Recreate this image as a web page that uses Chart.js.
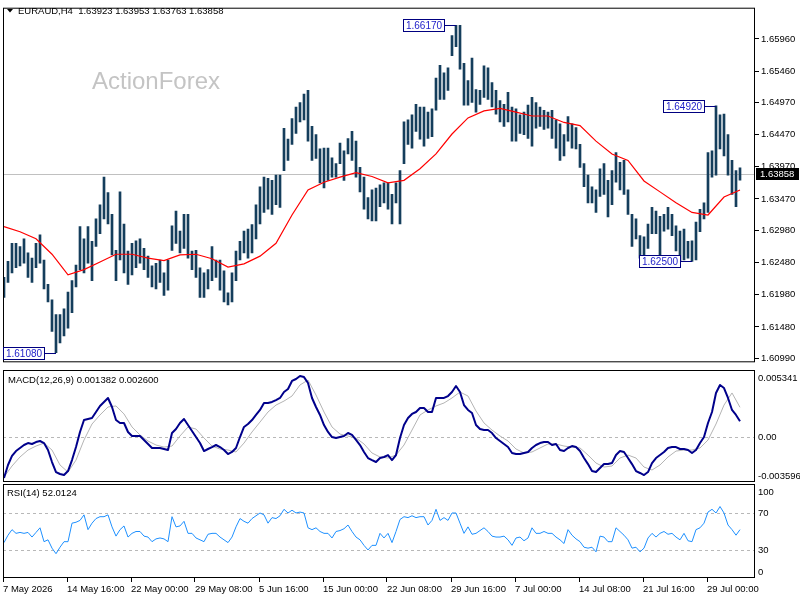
<!DOCTYPE html>
<html>
<head>
<meta charset="utf-8">
<title>EURAUD H4</title>
<script src="https://cdn.jsdelivr.net/npm/chart.js@4.4.1/dist/chart.umd.min.js"></script>
<style>
  html, body { margin: 0; padding: 0; background: #fff; }
  #wrap { position: relative; width: 800px; height: 600px; overflow: hidden; background: #fff; }
  canvas { position: absolute; left: 0; }
</style>
</head>
<body>
<div id="wrap">
  <canvas id="priceChart" width="800" height="370" style="top:0;width:800px;height:370px"></canvas>
  <canvas id="macdChart" width="800" height="114" style="top:368px;width:800px;height:114px"></canvas>
  <canvas id="rsiChart" width="800" height="118" style="top:482px;width:800px;height:118px"></canvas>
</div>
<script>
// EURAUD H4 - price bars (high/low), moving average, MACD and RSI

const titleText = 'EURAUD,H4  1.63923 1.63953 1.63763 1.63858';
const macdTitle = 'MACD(12,26,9) 0.001382 0.002600';
const rsiTitle = 'RSI(14) 52.0124';
const lastPrice = 1.63858;

const timeLabels = ['7 May 2026', '14 May 16:00', '22 May 00:00', '29 May 08:00', '5 Jun 16:00', '15 Jun 00:00',
  '22 Jun 08:00', '29 Jun 16:00', '7 Jul 00:00', '14 Jul 08:00', '21 Jul 16:00', '29 Jul 00:00'];
const priceTicks = [1.65960, 1.65460, 1.64970, 1.64470, 1.63970, 1.63470, 1.62980, 1.62480, 1.61980, 1.61480, 1.60990];
const macdTicks = [0.005341, 0, -0.003596];
const macdTickText = ['0.005341', '0.00', '-0.003596'];
const rsiTicks = [100, 70, 30, 0];

// one bar per 8 hours (two H4 bars merged)
const highs = [
  1.6225, 1.6250, 1.6278, 1.6278, 1.6273, 1.6285, 1.6263, 1.6255, 1.6278, 1.6291,
  1.6252, 1.6214, 1.6190, 1.6167, 1.6167, 1.6176, 1.6202, 1.6220, 1.6244, 1.6304,
  1.6285, 1.6304, 1.6281, 1.6316, 1.6338, 1.6381, 1.6357, 1.6323, 1.6267, 1.6358,
  1.6308, 1.6266, 1.6278, 1.6282, 1.6285, 1.6270, 1.6258, 1.6243, 1.6247, 1.6252,
  1.6232, 1.6252, 1.6305, 1.6328, 1.6297, 1.6323, 1.6323, 1.6266, 1.6267, 1.6240,
  1.6232, 1.6237, 1.6273, 1.6252, 1.6252, 1.6235, 1.6201, 1.6232, 1.6266, 1.6281,
  1.6297, 1.6300, 1.6307, 1.6338, 1.6366, 1.6381, 1.6379, 1.6376, 1.6384, 1.6384,
  1.6457, 1.6440, 1.6472, 1.6490, 1.6497, 1.6510, 1.6516, 1.6460, 1.6447, 1.6425,
  1.6426, 1.6426, 1.6411, 1.6402, 1.6434, 1.6422, 1.6441, 1.6452, 1.6437, 1.6396,
  1.6381, 1.6349, 1.6361, 1.6364, 1.6369, 1.6372, 1.6372, 1.6354, 1.6372, 1.6391,
  1.6467, 1.6470, 1.6478, 1.6494, 1.6490, 1.6490, 1.6482, 1.6487, 1.6535, 1.6555,
  1.6543, 1.6551, 1.6601, 1.6617, 1.6617, 1.6558, 1.6531, 1.6566, 1.6517, 1.6516,
  1.6554, 1.6551, 1.6528, 1.6516, 1.6500, 1.6494, 1.6513, 1.6490, 1.6487, 1.6478,
  1.6482, 1.6493, 1.6505, 1.6497, 1.6490, 1.6485, 1.6482, 1.6485, 1.6470, 1.6464,
  1.6447, 1.6475, 1.6464, 1.6458, 1.6432, 1.6402, 1.6384, 1.6366, 1.6361, 1.6394,
  1.6402, 1.6376, 1.6391, 1.6419, 1.6404, 1.6407, 1.6361, 1.6323, 1.6316, 1.6290,
  1.6288, 1.6308, 1.6334, 1.6328, 1.6320, 1.6323, 1.6334, 1.6323, 1.6305, 1.6297,
  1.6300, 1.6281, 1.6282, 1.6311, 1.6331, 1.6341, 1.6419, 1.6422, 1.6492, 1.6478,
  1.6479, 1.6447, 1.6407, 1.6391, 1.63953
];
const lows = [
  1.6194, 1.6217, 1.6232, 1.6240, 1.6243, 1.6247, 1.6225, 1.6217, 1.6240, 1.6247,
  1.6207, 1.6187, 1.6141, 1.6108, 1.6123, 1.6134, 1.6146, 1.6170, 1.6210, 1.6237,
  1.6232, 1.6247, 1.6220, 1.6273, 1.6293, 1.6316, 1.6308, 1.6260, 1.6220, 1.6252,
  1.6232, 1.6214, 1.6229, 1.6240, 1.6247, 1.6237, 1.6225, 1.6210, 1.6207, 1.6217,
  1.6197, 1.6205, 1.6267, 1.6278, 1.6263, 1.6270, 1.6255, 1.6237, 1.6225, 1.6194,
  1.6194, 1.6207, 1.6220, 1.6225, 1.6205, 1.6187, 1.6182, 1.6187, 1.6220, 1.6252,
  1.6263, 1.6255, 1.6263, 1.6285, 1.6308, 1.6326, 1.6331, 1.6323, 1.6338, 1.6334,
  1.6391, 1.6407, 1.6432, 1.6449, 1.6467, 1.6470, 1.6437, 1.6407, 1.6410, 1.6372,
  1.6364, 1.6376, 1.6381, 1.6381, 1.6402, 1.6376, 1.6417, 1.6407, 1.6381, 1.6358,
  1.6331, 1.6316, 1.6313, 1.6313, 1.6335, 1.6341, 1.6331, 1.6308, 1.6341, 1.6308,
  1.6402, 1.6432, 1.6426, 1.6452, 1.6440, 1.6429, 1.6441, 1.6444, 1.6485, 1.6502,
  1.6502, 1.6516, 1.6570, 1.6584, 1.6549, 1.6493, 1.6493, 1.6497, 1.6482, 1.6494,
  1.6505, 1.6502, 1.6490, 1.6479, 1.6467, 1.6460, 1.6467, 1.6437, 1.6437, 1.6449,
  1.6447, 1.6441, 1.6429, 1.6457, 1.6460, 1.6455, 1.6457, 1.6441, 1.6426, 1.6407,
  1.6414, 1.6437, 1.6426, 1.6425, 1.6396, 1.6366, 1.6341, 1.6341, 1.6326, 1.6351,
  1.6354, 1.6319, 1.6338, 1.6373, 1.6361, 1.6354, 1.6323, 1.6273, 1.6285, 1.6255,
  1.6258, 1.6270, 1.6293, 1.6293, 1.6258, 1.6297, 1.6300, 1.6290, 1.6266, 1.6250,
  1.6252, 1.6255, 1.6250, 1.6252, 1.6296, 1.6316, 1.6326, 1.6381, 1.6384, 1.6425,
  1.6414, 1.6384, 1.6354, 1.6335, 1.63763
];

// moving average, read every 4th bar
const maVals = [
  1.6304, 1.6296, 1.6285, 1.6261, 1.6229, 1.6237, 1.6249, 1.6261, 1.6261, 1.6255,
  1.6251, 1.6260, 1.6261, 1.6254, 1.6241, 1.6246, 1.6258, 1.6278, 1.6322, 1.6361,
  1.6373, 1.6381, 1.6388, 1.6382, 1.6372, 1.6376, 1.6394, 1.6417, 1.6448, 1.6473,
  1.6484, 1.6488, 1.6482, 1.6476, 1.6476, 1.6466, 1.6461, 1.6437, 1.6417, 1.6407,
  1.6375, 1.6358, 1.6341, 1.6326, 1.6322, 1.6350, 1.6361
];

// MACD main line, one value per bar
const macdVals = [
  -0.00359, -0.00245, -0.00166, -0.00123, -0.00096, -0.00070, -0.00053, -0.00061, -0.00044, -0.00035,
  -0.00053, -0.00114, -0.00219, -0.00307, -0.00324, -0.00333, -0.00298, -0.00202, -0.00088, 0.00044,
  0.00149, 0.00158, 0.00166, 0.00219, 0.00272, 0.00307, 0.00342, 0.00263, 0.00149, 0.00123,
  0.00123, 0.00044, 0.00009, 0.00009, 0.00009, -0.00026, -0.00061, -0.00096, -0.00096, -0.00096,
  -0.00105, -0.00114, 0.00035, 0.00070, 0.00123, 0.00158, 0.00105, 0.00053, 0.00000, -0.00053,
  -0.00123, -0.00105, -0.00088, -0.00070, -0.00088, -0.00114, -0.00149, -0.00131, -0.00096, 0.00000,
  0.00088, 0.00114, 0.00149, 0.00193, 0.00237, 0.00298, 0.00298, 0.00307, 0.00324, 0.00342,
  0.00394, 0.00421, 0.00491, 0.00508, 0.00534, 0.00525, 0.00473, 0.00342, 0.00263, 0.00193,
  0.00105, 0.00044, 0.00000, -0.00009, 0.00000, 0.00009, 0.00035, 0.00018, -0.00026, -0.00070,
  -0.00131, -0.00184, -0.00202, -0.00219, -0.00184, -0.00175, -0.00158, -0.00202, -0.00158, -0.00009,
  0.00105, 0.00166, 0.00202, 0.00219, 0.00254, 0.00254, 0.00219, 0.00219, 0.00342, 0.00342,
  0.00342, 0.00359, 0.00394, 0.00447, 0.00394, 0.00280, 0.00237, 0.00210, 0.00105, 0.00070,
  0.00061, 0.00061, 0.00035, -0.00009, -0.00035, -0.00061, -0.00088, -0.00140, -0.00149, -0.00149,
  -0.00140, -0.00131, -0.00096, -0.00070, -0.00053, -0.00044, -0.00044, -0.00070, -0.00061, -0.00114,
  -0.00123, -0.00096, -0.00079, -0.00088, -0.00123, -0.00184, -0.00237, -0.00298, -0.00307, -0.00272,
  -0.00237, -0.00237, -0.00228, -0.00158, -0.00123, -0.00131, -0.00184, -0.00237, -0.00298, -0.00315,
  -0.00333, -0.00307, -0.00228, -0.00184, -0.00158, -0.00131, -0.00096, -0.00088, -0.00088, -0.00105,
  -0.00105, -0.00114, -0.00140, -0.00114, -0.00053, 0.00000, 0.00123, 0.00219, 0.00386, 0.00456,
  0.00429, 0.00342, 0.00237, 0.00193, 0.001382
];

// MACD signal line, read every 2nd bar
const signalVals = [
  -0.00350, -0.00254, -0.00175, -0.00114, -0.00079, -0.00053, -0.00114, -0.00245, -0.00307, -0.00202,
  -0.00026, 0.00114, 0.00193, 0.00263, 0.00272, 0.00202, 0.00088, 0.00018, -0.00035, -0.00070,
  -0.00088, -0.00079, 0.00009, 0.00088, 0.00070, -0.00009, -0.00079, -0.00105, -0.00114, -0.00131,
  -0.00053, 0.00044, 0.00131, 0.00219, 0.00280, 0.00315, 0.00359, 0.00456, 0.00499, 0.00368,
  0.00219, 0.00088, 0.00026, 0.00009, -0.00009, -0.00061, -0.00140, -0.00175, -0.00184, -0.00158,
  -0.00070, 0.00061, 0.00193, 0.00237, 0.00272, 0.00298, 0.00342, 0.00394, 0.00359, 0.00228,
  0.00123, 0.00061, 0.00009, -0.00035, -0.00105, -0.00140, -0.00131, -0.00096, -0.00061, -0.00061,
  -0.00079, -0.00088, -0.00096, -0.00158, -0.00228, -0.00263, -0.00254, -0.00184, -0.00158, -0.00184,
  -0.00263, -0.00289, -0.00245, -0.00175, -0.00123, -0.00114, -0.00114, -0.00096, -0.00026, 0.00114,
  0.00280, 0.00386, 0.00260
];

// RSI(14), one value per bar
const rsiVals = [
  38, 46, 52, 48, 49, 48, 49, 44, 49, 54, 39, 41, 32, 26, 33, 39, 39, 59, 60, 62,
  68, 52, 59, 64, 66, 66, 68, 55, 45, 52, 56, 44, 48, 50, 50, 45, 44, 39, 42, 43,
  42, 39, 66, 55, 56, 61, 48, 48, 43, 41, 39, 47, 48, 48, 44, 41, 38, 44, 55, 64,
  61, 59, 64, 67, 70, 68, 59, 65, 64, 67, 74, 70, 73, 70, 71, 70, 54, 52, 54, 50,
  48, 48, 43, 50, 51, 53, 57, 50, 44, 41, 35, 30, 35, 35, 48, 43, 48, 38, 50, 63,
  66, 65, 67, 65, 66, 66, 57, 62, 74, 62, 65, 62, 70, 70, 59, 48, 55, 47, 48, 51,
  54, 50, 45, 44, 44, 45, 41, 35, 43, 44, 40, 43, 54, 48, 48, 50, 48, 48, 44, 41,
  37, 52, 46, 42, 39, 33, 32, 33, 28, 45, 44, 39, 39, 54, 50, 46, 41, 32, 33, 28,
  32, 43, 48, 44, 48, 50, 47, 48, 44, 41, 48, 40, 39, 52, 54, 59, 71, 74, 70, 77,
  70, 57, 52, 46, 52.0124
];

// swing high/low labels: bar index and price
const markIdx = [113, 178, 13, 172];
const markVal = [1.66170, 1.64920, 1.61080, 1.62500];

const FONT = { family: '"Liberation Sans", Arial, sans-serif', size: 9.5 };
const FONT_CSS = '9.5px "Liberation Sans", Arial, sans-serif';
const X_MIN = -0.25, X_MAX = 187.75;

function frame(ctx, a) {
  ctx.save();
  ctx.strokeStyle = '#000';
  ctx.lineWidth = 1;
  ctx.strokeRect(a.left + 0.5, a.top + 0.5, a.right - a.left - 1, a.bottom - a.top - 1);
  ctx.restore();
}

function hLine(ctx, chart, v, color, dash) {
  const a = chart.chartArea;
  const y = Math.round(chart.scales.y.getPixelForValue(v)) + 0.5;
  ctx.save();
  ctx.strokeStyle = color;
  ctx.lineWidth = 1;
  ctx.setLineDash(dash);
  ctx.beginPath();
  ctx.moveTo(a.left, y);
  ctx.lineTo(a.right, y);
  ctx.stroke();
  ctx.restore();
}

function panelTitle(ctx, text, x, y) {
  ctx.save();
  ctx.font = FONT_CSS;
  ctx.fillStyle = '#000';
  ctx.textBaseline = 'middle';
  ctx.fillText(text, x, y);
  ctx.restore();
}

// right side labels kept inside the panel like the terminal does
function sideLabels(ctx, chart, vals, texts) {
  const a = chart.chartArea, ys = chart.scales.y;
  ctx.save();
  ctx.font = FONT_CSS;
  ctx.fillStyle = '#000';
  ctx.textBaseline = 'middle';
  vals.forEach((v, i) => {
    let y = ys.getPixelForValue(v);
    y = Math.min(Math.max(y, a.top + 8), a.bottom - 6);
    ctx.fillText(texts[i], a.right + 3, y);
  });
  ctx.restore();
}

function drawMark(ctx, chart, idx, val) {
  const bx = chart.scales.x.getPixelForValue(idx);
  const by = Math.round(chart.scales.y.getPixelForValue(val)) + 0.5;
  const w = 42, h = 12;
  const right = Math.round(bx - 11), left = right - w;
  ctx.save();
  ctx.fillStyle = '#fff';
  ctx.fillRect(left, by - 6.5, w, h);
  ctx.strokeStyle = '#000080';
  ctx.lineWidth = 1;
  ctx.strokeRect(left + 0.5, by - 6, w - 1, h);
  ctx.beginPath();
  ctx.moveTo(right, by);
  ctx.lineTo(bx, by);
  ctx.stroke();
  ctx.font = '10px "Liberation Sans", Arial, sans-serif';
  ctx.fillStyle = '#1c1cc8';
  ctx.textAlign = 'center';
  ctx.textBaseline = 'middle';
  ctx.fillText(val.toFixed(5), left + w / 2, by + 0.5);
  ctx.restore();
}

const baseOptions = {
  responsive: false,
  animation: false,
  devicePixelRatio: 1,
  events: [],
  plugins: { legend: { display: false }, tooltip: { enabled: false } }
};

function hiddenX() {
  return { type: 'linear', min: X_MIN, max: X_MAX, offset: false, display: false, grid: { offset: false } };
}

// ---------- price panel ----------
const bars = highs.map((h, i) => ({ x: i, y: [lows[i], h] }));
const maData = maVals.map((v, k) => ({ x: k * 4, y: v }));

new Chart(document.getElementById('priceChart'), {
  type: 'bar',
  data: {
    datasets: [
      { type: 'line', data: maData, borderColor: '#ff0000', borderWidth: 1.2, pointRadius: 0, tension: 0 },
      { type: 'bar', data: bars, backgroundColor: '#153e5c', borderWidth: 0, barThickness: 2, grouped: false }
    ]
  },
  options: Object.assign({}, baseOptions, {
    layout: { padding: { left: 3, top: 3, bottom: 3, right: 0 } },
    scales: {
      x: hiddenX(),
      y: {
        position: 'right', min: 1.60929, max: 1.66445,
        afterBuildTicks: s => { s.ticks = priceTicks.map(v => ({ value: v })); },
        afterFit: s => { s.width = 45; },
        ticks: { font: FONT, color: '#000', padding: 2, callback: v => v.toFixed(5) },
        grid: { drawOnChartArea: false, tickLength: 4, color: '#000' },
        border: { display: false }
      }
    }
  }),
  plugins: [{
    id: 'pricePanel',
    beforeDatasetsDraw(chart) {
      const ctx = chart.ctx;
      ctx.save();
      ctx.font = '24px "Liberation Sans", Arial, sans-serif';
      ctx.fillStyle = '#c4c4c4';
      ctx.fillText('ActionForex', 92, 89);
      ctx.restore();
      hLine(ctx, chart, lastPrice, '#c0c0c0', []);
    },
    afterDraw(chart) {
      const ctx = chart.ctx, a = chart.chartArea;
      frame(ctx, a);
      // title with the small drop-down triangle
      ctx.save();
      ctx.fillStyle = '#000';
      ctx.beginPath();
      ctx.moveTo(7, 9); ctx.lineTo(13, 9); ctx.lineTo(10, 12.5); ctx.closePath();
      ctx.fill();
      ctx.restore();
      panelTitle(ctx, titleText, 18, 11);
      markIdx.forEach((idx, i) => drawMark(ctx, chart, idx, markVal[i]));
      // current price tag
      const y = Math.round(chart.scales.y.getPixelForValue(lastPrice));
      ctx.save();
      ctx.fillStyle = '#000';
      ctx.fillRect(a.right + 1, y - 6, 43, 12);
      ctx.font = FONT_CSS;
      ctx.fillStyle = '#fff';
      ctx.textBaseline = 'middle';
      ctx.fillText(lastPrice.toFixed(5), a.right + 5, y + 0.5);
      ctx.restore();
    }
  }]
});

// ---------- MACD panel ----------
const macdData = macdVals.map((v, i) => ({ x: i, y: v }));
const signalData = signalVals.map((v, k) => ({ x: k * 2, y: v }));

new Chart(document.getElementById('macdChart'), {
  type: 'line',
  data: {
    datasets: [
      { data: macdData, borderColor: '#00008b', borderWidth: 2, pointRadius: 0, tension: 0, borderJoinStyle: 'round' },
      { data: signalData, borderColor: '#b4b4b4', borderWidth: 1, pointRadius: 0, tension: 0 }
    ]
  },
  options: Object.assign({}, baseOptions, {
    layout: { padding: { left: 3, top: 2, bottom: 0, right: 0 } },
    scales: {
      x: hiddenX(),
      y: {
        position: 'right', min: -0.00394, max: 0.00587,
        afterFit: s => { s.width = 45; },
        ticks: { display: false },
        grid: { display: false },
        border: { display: false }
      }
    }
  }),
  plugins: [{
    id: 'macdPanel',
    beforeDatasetsDraw(chart) {
      hLine(chart.ctx, chart, 0, '#b8b8b8', [3, 3]);
    },
    afterDraw(chart) {
      const ctx = chart.ctx;
      frame(ctx, chart.chartArea);
      panelTitle(ctx, macdTitle, 8, 12);
      sideLabels(ctx, chart, macdTicks, macdTickText);
    }
  }]
});

// ---------- RSI panel ----------
const rsiData = rsiVals.map((v, i) => ({ x: i, y: v }));
const timeTickPos = timeLabels.map((_, k) => k * 16 - 0.25);

new Chart(document.getElementById('rsiChart'), {
  type: 'line',
  data: {
    datasets: [
      { data: rsiData, borderColor: '#1e90ff', borderWidth: 1, pointRadius: 0, tension: 0 }
    ]
  },
  options: Object.assign({}, baseOptions, {
    layout: { padding: { left: 3, top: 2, bottom: 0, right: 0 } },
    scales: {
      x: {
        type: 'linear', min: X_MIN, max: X_MAX,
        afterBuildTicks: s => { s.ticks = timeTickPos.map(v => ({ value: v })); },
        afterFit: s => { s.height = 22; },
        ticks: { align: 'start', maxRotation: 0, autoSkip: false, font: FONT, color: '#000', padding: 2,
          callback: (v, i) => timeLabels[i] },
        grid: { drawOnChartArea: false, tickLength: 4, color: '#000' },
        border: { display: false }
      },
      y: {
        position: 'right', min: -0.27, max: 101.35,
        afterFit: s => { s.width = 45; },
        ticks: { display: false },
        grid: { display: false },
        border: { display: false }
      }
    }
  }),
  plugins: [{
    id: 'rsiPanel',
    beforeDatasetsDraw(chart) {
      hLine(chart.ctx, chart, 70, '#b8b8b8', [3, 3]);
      hLine(chart.ctx, chart, 30, '#b8b8b8', [3, 3]);
    },
    afterDraw(chart) {
      const ctx = chart.ctx;
      frame(ctx, chart.chartArea);
      panelTitle(ctx, rsiTitle, 7, 11);
      sideLabels(ctx, chart, rsiTicks, rsiTicks.map(String));
    }
  }]
});
</script>
</body>
</html>
